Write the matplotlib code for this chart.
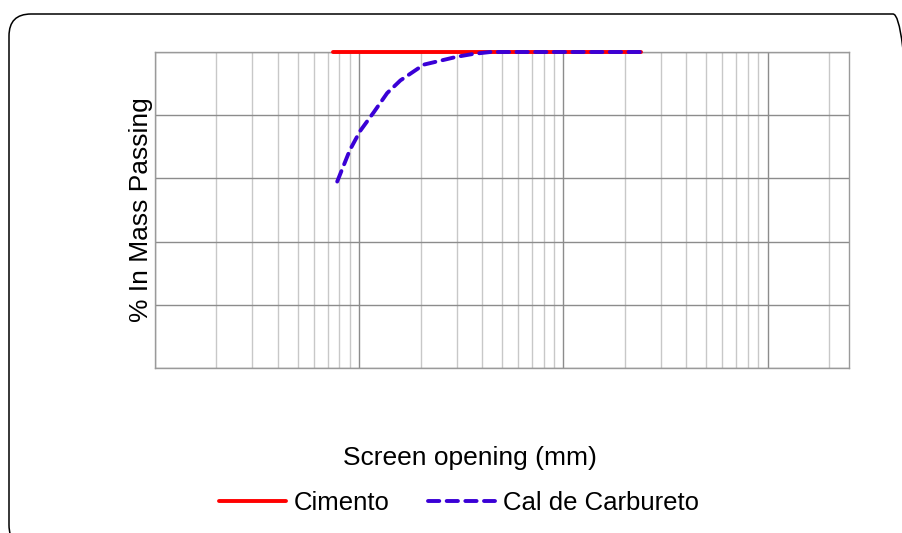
import matplotlib
matplotlib.use('Agg')
import matplotlib.pyplot as plt
from matplotlib.patches import FancyBboxPatch
from matplotlib.transforms import IdentityTransform
from matplotlib.ticker import LogLocator, NullFormatter, MultipleLocator

plt.rcParams['font.family'] = ['Liberation Sans', 'DejaVu Sans']

cimento_size = [0.0074, 0.24]
cimento_pass = [100, 100]
cal_size = [0.0078, 0.0090, 0.0101, 0.0118, 0.0137, 0.0159, 0.0207,
            0.0301, 0.0362, 0.0439, 0.075, 0.15, 0.24]
cal_pass = [59, 69, 75, 81, 87, 91, 96, 98.5, 99.4, 100, 100, 100, 100]

fig = plt.figure(figsize=(9.03, 5.33), dpi=100)
ax = fig.add_axes([155 / 903, 1 - 368 / 533, (849 - 155) / 903, (368 - 52) / 533])

ax.plot(cimento_size, cimento_pass, color='#ff0000', lw=2.8,
        solid_capstyle='round', clip_on=False, zorder=3, label='Cimento')
ax.plot(cal_size, cal_pass, color='#3a00d6', lw=2.8, dashes=(2.9, 1.9),
        dash_capstyle='round', solid_joinstyle='round', clip_on=False,
        zorder=4, label='Cal de Carbureto')

ax.set_xscale('log')
ax.set_xlim(0.001, 2.5)
ax.set_ylim(0, 100)
ax.xaxis.set_major_locator(LogLocator(base=10))
ax.xaxis.set_minor_locator(LogLocator(base=10, subs=range(2, 10)))
ax.xaxis.set_major_formatter(NullFormatter())
ax.xaxis.set_minor_formatter(NullFormatter())
ax.yaxis.set_major_locator(MultipleLocator(20))
ax.yaxis.set_major_formatter(NullFormatter())
ax.tick_params(which='both', length=0)

ax.grid(True, which='major', color='#8c8c8c', lw=1.0)
ax.grid(True, which='minor', axis='x', color='#c8c8c8', lw=1.0)
ax.set_axisbelow(True)
for s in ax.spines.values():
    s.set_color('#9a9a9a')
    s.set_linewidth(1.0)

ax.set_ylabel('% In Mass Passing', fontsize=19, labelpad=-2)
fig.text(470 / 903, 1 - 458 / 533, 'Screen opening (mm)', fontsize=19,
         ha='center', va='center')

fig.legend(loc='center', bbox_to_anchor=(459 / 903, 1 - 503 / 533), ncol=2,
           frameon=False, fontsize=18.5, handlelength=2.6, handletextpad=0.3,
           columnspacing=1.5)

# marco redondeado
frame = FancyBboxPatch((9, -14), 906, 533, boxstyle='round,pad=0,rounding_size=22',
                       transform=IdentityTransform(), fill=False,
                       edgecolor='black', lw=1.1)
fig.add_artist(frame)

fig.savefig('out.png', dpi=100)
